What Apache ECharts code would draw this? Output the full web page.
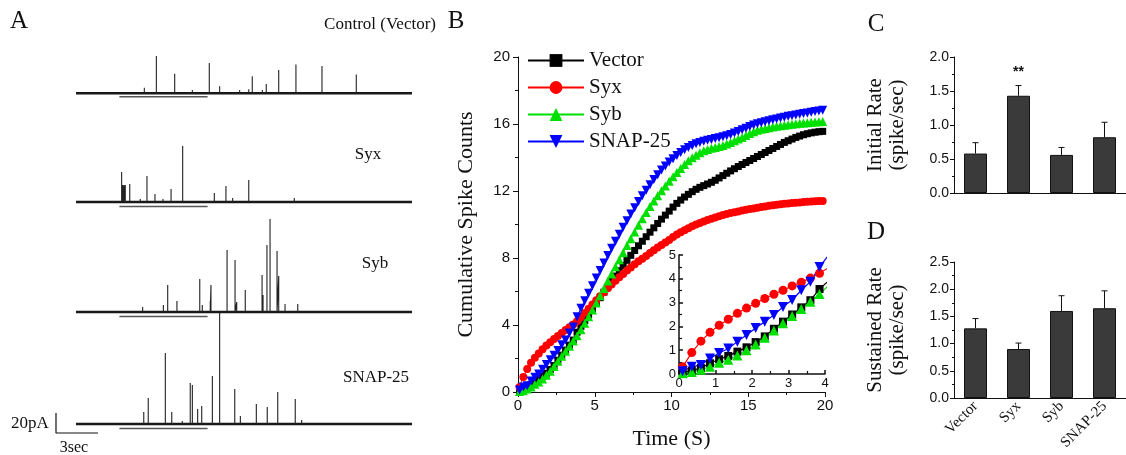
<!DOCTYPE html>
<html>
<head>
<meta charset="utf-8">
<script src="https://cdn.jsdelivr.net/npm/echarts@6/dist/echarts.min.js"></script>
<style>
html,body{margin:0;padding:0;background:#fff;}
#chart{width:1126px;height:455px;}
</style>
</head>
<body>
<div id="chart"></div>
<script>
// ---------- Panel A: spike traces, [time (s), amplitude (pA)] ----------
const traceNames = ['Control (Vector)', 'Syx', 'Syb', 'SNAP-25'];
const traceDuration = 24;          // seconds shown in each trace
const stimulusWindow = [3.1, 9.4]; // seconds (underline below each trace)
const spikesVector = [[4.88,7],[5.74,48],[7.05,25],[8.31,4],[9.52,39],[10.26,9],[11.69,4],[12.34,5],[12.59,22],[13.31,4],[13.59,12],[14.48,30],[15.71,37],[17.57,35],[20.02,24]];
const spikesSyx = [[3.26,30],[3.34,17],[3.43,17],[3.52,17],[3.84,18],[4.59,3],[5.07,26],[5.64,8],[6.21,3],[6.79,13],[7.62,56],[9.88,9],[10.71,16],[11.19,4],[12.34,22],[15.59,4]];
const spikesSyb = [[4.76,5],[6.24,7],[6.55,27],[7.21,11],[8.84,33],[9.02,7],[9.59,11],[9.64,27],[10.79,62],[11.36,52],[11.48,10],[12.09,22],[13.29,37],[13.36,17],[13.64,67],[13.86,93],[14.36,61],[14.48,36],[14.93,8],[15.84,8]];
const spikesSnap = [[4.41,2],[4.84,12],[5.16,26],[6.38,71],[6.84,12],[7.59,3],[8.16,41],[8.31,39],[8.69,15],[8.98,18],[9.74,48],[10.26,111],[11.34,35],[11.74,8],[12.88,20],[13.66,17],[14.41,32],[15.66,25],[16.12,4]];
const scaleBar = {seconds: 3, pA: 20};

// ---------- Panel B: cumulative spike counts (0.25 s bins, first bin centred at 0.1 s) ----------
const seriesNames = ['Vector', 'Syx', 'Syb', 'SNAP-25'];
const binTimes = Array.from({length: 80}, (_, i) => +(0.1 + 0.25 * i).toFixed(2));
const cumVector = [0.07,0.15,0.25,0.45,0.62,0.76,0.94,1.12,1.34,1.58,1.9,2.2,2.5,2.8,3.1,3.57,
  3.92,4.27,4.62,4.97,5.3,5.63,5.96,6.28,6.6,6.92,7.24,7.55,7.86,8.16,8.45,8.73,
  9.0,9.27,9.54,9.8,10.06,10.32,10.56,10.8,11.04,11.26,11.46,11.64,11.8,11.96,12.1,12.22,
  12.32,12.42,12.52,12.64,12.78,12.92,13.06,13.2,13.33,13.46,13.58,13.7,13.82,13.94,14.06,14.18,
  14.3,14.42,14.54,14.66,14.78,14.9,15.0,15.1,15.2,15.28,15.36,15.42,15.47,15.51,15.54,15.56];
const cumSyx = [0.3,0.9,1.38,1.75,2.05,2.3,2.55,2.77,2.97,3.17,3.35,3.52,3.7,3.86,4.03,4.23,
  4.47,4.72,4.97,5.22,5.48,5.72,5.96,6.2,6.42,6.64,6.85,7.05,7.25,7.44,7.62,7.8,
  7.95,8.12,8.3,8.47,8.63,8.78,8.93,9.08,9.25,9.4,9.53,9.66,9.78,9.9,10.0,10.09,
  10.18,10.27,10.35,10.42,10.49,10.56,10.62,10.68,10.73,10.78,10.83,10.88,10.92,10.96,11.0,11.04,
  11.08,11.12,11.15,11.18,11.21,11.24,11.26,11.28,11.3,11.32,11.34,11.36,11.38,11.39,11.4,11.41];
const cumSyb = [0.03,0.08,0.18,0.3,0.47,0.6,0.78,1.0,1.24,1.52,1.83,2.13,2.44,2.73,3.04,3.36,
  3.72,4.1,4.5,4.9,5.32,5.75,6.18,6.62,7.05,7.48,7.9,8.32,8.74,9.15,9.55,9.95,
  10.35,10.72,11.07,11.4,11.72,12.02,12.3,12.58,12.85,13.1,13.35,13.58,13.8,13.98,14.14,14.28,
  14.4,14.48,14.55,14.6,14.65,14.72,14.8,14.9,15.0,15.1,15.2,15.32,15.44,15.54,15.62,15.68,
  15.73,15.78,15.82,15.86,15.9,15.93,15.96,15.99,16.02,16.04,16.06,16.08,16.1,16.12,16.13,16.15];
const cumSnap = [0.12,0.3,0.38,0.65,0.88,1.07,1.36,1.64,1.93,2.2,2.48,2.82,3.11,3.52,3.88,4.5,
  5.0,5.45,5.9,6.35,6.8,7.25,7.7,8.15,8.58,9.0,9.42,9.83,10.23,10.62,11.0,11.37,
  11.72,12.05,12.37,12.68,12.97,13.25,13.5,13.73,13.93,14.12,14.3,14.46,14.6,14.72,14.82,14.9,
  14.97,15.03,15.08,15.13,15.18,15.24,15.3,15.38,15.46,15.55,15.65,15.75,15.85,15.94,16.02,16.08,
  16.14,16.2,16.25,16.3,16.36,16.41,16.46,16.5,16.54,16.58,16.62,16.66,16.7,16.74,16.78,16.82];
const insetMaxTime = 4;

// ---------- Panels C & D: rates (mean, SEM) ----------
const barCats = ['Vector', 'Syx', 'Syb', 'SNAP-25'];
const initialRate = [0.58, 1.43, 0.56, 0.82];
const initialErr  = [0.16, 0.15, 0.11, 0.22];
const initialSig  = ['', '**', '', ''];
const sustainedRate = [1.28, 0.90, 1.60, 1.65];
const sustainedErr  = [0.18, 0.11, 0.28, 0.32];

// ---------- build ----------
const SERIF = '"Liberation Serif", "Times New Roman", serif';
const SANS = '"Liberation Sans", Arial, sans-serif';
const INK = '#111';

function spikePath(spikes) {
  const pts = [[0, 0]];
  spikes.forEach(([t, h]) => { pts.push([t, 0], [t, h], [t, 0]); });
  pts.push([traceDuration, 0]);
  return pts;
}
const allSpikes = [spikesVector, spikesSyx, spikesSyb, spikesSnap];
const traceBaselines = [91, 202, 312, 424];

const grids = [], xAxes = [], yAxes = [], series = [];
traceBaselines.forEach((b, k) => {
  grids.push({left: 76, top: b - 120, width: 336, height: 130});
  xAxes.push({gridIndex: k, type: 'value', min: 0, max: traceDuration, show: false});
  yAxes.push({gridIndex: k, type: 'value', min: -10, max: 120, show: false});
  series.push({type: 'line', xAxisIndex: k, yAxisIndex: k, data: [[0, 0], [traceDuration, 0]],
    symbol: 'none', clip: false, silent: true, lineStyle: {color: INK, width: 2.6}});
  series.push({type: 'line', xAxisIndex: k, yAxisIndex: k, data: spikePath(allSpikes[k]),
    symbol: 'none', clip: false, silent: true, lineStyle: {color: '#222', width: 1.1}});
  series.push({type: 'line', xAxisIndex: k, yAxisIndex: k,
    data: [[stimulusWindow[0], -4.5], [stimulusWindow[1], -4.5]],
    symbol: 'none', clip: false, silent: true, lineStyle: {color: '#555', width: 1.3}});
});
// scale bar grid (index 4)
grids.push({left: 56, top: 413, width: 42, height: 20});
xAxes.push({gridIndex: 4, type: 'value', min: 0, max: scaleBar.seconds, show: false});
yAxes.push({gridIndex: 4, type: 'value', min: 0, max: scaleBar.pA, show: false});
series.push({type: 'line', xAxisIndex: 4, yAxisIndex: 4,
  data: [[0, scaleBar.pA], [0, 0], [scaleBar.seconds, 0]],
  symbol: 'none', clip: false, silent: true, lineStyle: {color: INK, width: 1.2}});

// Panel B main (index 5)
grids.push({left: 518, top: 57, width: 307, height: 340});
const axisLineStyle = {lineStyle: {color: INK, width: 1}};
xAxes.push({gridIndex: 5, type: 'value', min: 0, max: 20, interval: 5,
  axisLine: axisLineStyle, splitLine: {show: false},
  axisTick: {length: 5, lineStyle: {color: INK}},
  minorTick: {show: true, splitNumber: 2, length: 3, lineStyle: {color: INK}},
  axisLabel: {color: INK, fontFamily: SANS, fontSize: 15, margin: 6},
  name: 'Time (S)', nameLocation: 'middle', nameGap: 36,
  nameTextStyle: {fontFamily: SERIF, fontSize: 22, color: INK}});
yAxes.push({gridIndex: 5, type: 'value', min: 0, max: 20, interval: 4,
  axisLine: {show: true, lineStyle: {color: INK, width: 1}}, splitLine: {show: false},
  axisTick: {show: true, length: 5, lineStyle: {color: INK}},
  minorTick: {show: true, splitNumber: 2, length: 3, lineStyle: {color: INK}},
  axisLabel: {color: INK, fontFamily: SANS, fontSize: 15, margin: 8},
  name: 'Cumulative Spike Counts', nameLocation: 'middle', nameGap: 41,
  nameTextStyle: {fontFamily: SERIF, fontSize: 22, color: INK}});

// Inset (index 6)
grids.push({left: 679, top: 255, width: 146, height: 119});
xAxes.push({gridIndex: 6, type: 'value', min: 0, max: insetMaxTime, interval: 1,
  axisLine: {lineStyle: {color: INK, width: 1.5}}, splitLine: {show: false},
  axisTick: {inside: true, length: 4, lineStyle: {color: INK, width: 1.5}},
  minorTick: {show: true, splitNumber: 2, length: 3, lineStyle: {color: INK, width: 1.2}},
  axisLabel: {color: INK, fontFamily: SANS, fontSize: 13, margin: 3}});
yAxes.push({gridIndex: 6, type: 'value', min: 0, max: 5, interval: 1,
  axisLine: {show: true, lineStyle: {color: INK, width: 1.5}}, splitLine: {show: false},
  axisTick: {show: true, inside: true, length: 4, lineStyle: {color: INK, width: 1.5}},
  minorTick: {show: true, splitNumber: 2, length: 3, lineStyle: {color: INK, width: 1.2}},
  axisLabel: {color: INK, fontFamily: SANS, fontSize: 13, margin: 3}});

const cumData = [cumVector, cumSyx, cumSyb, cumSnap];
const colors = ['#000000', '#ff0000', '#00e000', '#0000ff'];
const symbols = ['rect', 'circle', 'triangle', 'triangle'];
const rotations = [0, 0, 0, 180];
const mainSizes = [7, 8, 9, 9];
const insetSizes = [8, 9, 10, 10];
seriesNames.forEach((name, s) => {
  const pts = binTimes.map((t, i) => [t, cumData[s][i]]);
  series.push({type: 'line', name, xAxisIndex: 5, yAxisIndex: 5, data: pts,
    symbol: symbols[s], symbolRotate: rotations[s], symbolSize: mainSizes[s],
    itemStyle: {color: colors[s]}, lineStyle: {color: colors[s], width: 1}});
});
seriesNames.forEach((name, s) => {
  const pts = binTimes.filter(t => t <= insetMaxTime + 0.25).map((t, i) => [t, cumData[s][i]]);
  series.push({type: 'line', name, xAxisIndex: 6, yAxisIndex: 6, data: pts, clip: true,
    symbol: symbols[s], symbolRotate: rotations[s], symbolSize: insetSizes[s],
    itemStyle: {color: colors[s]}, lineStyle: {color: colors[s], width: 1.2}});
});

// Panels C (index 7) and D (index 8)
function barAxes(gi, max, showLabels, name, gridTop, gridH) {
  grids.push({left: 954, top: gridTop, width: 176, height: gridH});
  xAxes.push({gridIndex: gi, type: 'category', data: barCats,
    axisLine: axisLineStyle, axisTick: {show: false},
    axisLabel: showLabels ? {show: true, rotate: 45, interval: 0, color: INK, fontFamily: SERIF, fontSize: 15, margin: 6} : {show: false}});
  yAxes.push({gridIndex: gi, type: 'value', min: 0, max, interval: 0.5,
    axisLine: {show: true, lineStyle: {color: INK, width: 1}}, splitLine: {show: false},
    axisTick: {show: true, length: 4, lineStyle: {color: INK}},
    minorTick: {show: true, splitNumber: 2, length: 2, lineStyle: {color: INK}},
    axisLabel: {color: INK, fontFamily: SANS, fontSize: 14, margin: 5, formatter: v => v.toFixed(1)},
    name, nameLocation: 'middle', nameGap: 46,
    nameTextStyle: {fontFamily: SERIF, fontSize: 21, color: INK, lineHeight: 22}});
}
barAxes(7, 2.0, false, 'Initial Rate\n(spike/sec)', 57, 136);
barAxes(8, 2.5, true, 'Sustained Rate\n(spike/sec)', 262, 136);

function errRender(sig) {
  return function (params, api) {
    const i = api.value(0), v = api.value(1), e = api.value(2);
    const p0 = api.coord([i, v]);
    const p1 = api.coord([i, v + e]);
    const cap = 3;
    const kids = [
      {type: 'line', shape: {x1: p0[0], y1: p0[1], x2: p1[0], y2: p1[1]}, style: {stroke: INK, lineWidth: 1}},
      {type: 'line', shape: {x1: p1[0] - cap, y1: p1[1], x2: p1[0] + cap, y2: p1[1]}, style: {stroke: INK, lineWidth: 1}}
    ];
    if (sig && sig[i]) {
      kids.push({type: 'text', x: p1[0], y: p1[1] - 13,
        style: {text: sig[i], font: 'bold 14px "Liberation Sans"', fill: INK, align: 'center', verticalAlign: 'middle'}});
    }
    return {type: 'group', children: kids};
  };
}
[[7, initialRate, initialErr, initialSig], [8, sustainedRate, sustainedErr, null]].forEach(([gi, vals, errs, sig]) => {
  series.push({type: 'bar', xAxisIndex: gi, yAxisIndex: gi, data: vals, barWidth: 23,
    itemStyle: {color: '#3a3a3a', borderColor: '#111', borderWidth: 1}});
  series.push({type: 'custom', xAxisIndex: gi, yAxisIndex: gi, z: 5,
    data: vals.map((v, i) => [i, v, errs[i]]), renderItem: errRender(sig)});
});

function txt(x, y, text, size, align) {
  return {type: 'text', x, y, silent: true,
    style: {text, font: size + 'px ' + SERIF, fill: INK, align: align || 'center', verticalAlign: 'middle'}};
}
const graphic = [
  txt(19, 21, 'A', 25), txt(456, 21, 'B', 25), txt(876, 24, 'C', 25), txt(876, 232, 'D', 25),
  txt(436, 25, traceNames[0], 17, 'right'),
  txt(368, 155, traceNames[1], 17), txt(375, 264, traceNames[2], 17), txt(376, 378, traceNames[3], 17),
  txt(30, 424, scaleBar.pA + 'pA', 17), txt(74, 448, scaleBar.seconds + 'sec', 16)
];

const chart = echarts.init(document.getElementById('chart'), null, {renderer: 'canvas'});
chart.setOption({
  animation: false,
  backgroundColor: '#ffffff',
  grid: grids, xAxis: xAxes, yAxis: yAxes, series, graphic,
  legend: {data: seriesNames, orient: 'vertical', left: 527, top: 50, padding: 0,
    itemWidth: 56, itemHeight: 16, itemGap: 6,
    textStyle: {fontFamily: SERIF, fontSize: 21, color: INK}}
});
</script>
</body>
</html>
